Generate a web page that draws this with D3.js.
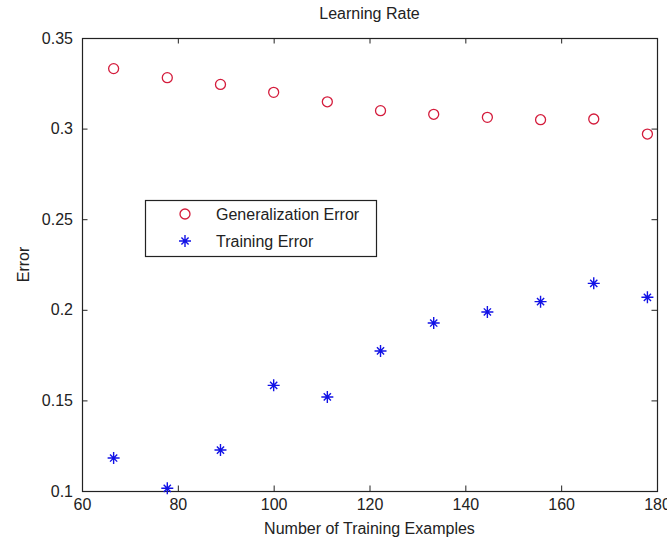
<!DOCTYPE html>
<html>
<head>
<meta charset="utf-8">
<script src="https://cdn.jsdelivr.net/npm/d3@7"></script>
<style>
  body { margin: 0; background: #fff; }
  svg text { font-family: "Liberation Sans", Arial, sans-serif; fill: #222; }
</style>
</head>
<body>
<svg id="svg" width="667" height="540"></svg>
<script>
// Training set sizes (x)
var trainingSizes = [66.6, 77.8, 88.9, 100, 111.2, 122.3, 133.4, 144.6, 155.7, 166.8, 178];

// Error values
var generalizationError = [0.3331, 0.3281, 0.3244, 0.3200, 0.3148, 0.3099, 0.3079, 0.3062, 0.3049, 0.3053, 0.2970];
var trainingError = [0.1182, 0.1015, 0.1226, 0.1583, 0.1519, 0.1773, 0.1927, 0.1988, 0.2045, 0.2146, 0.2069];

var xTicks = [60, 80, 100, 120, 140, 160, 180];
var yTicks = [0.1, 0.15, 0.2, 0.25, 0.3, 0.35];

var legendLabels = ["Generalization Error", "Training Error"];

var svg = d3.select('#svg'),
	// plot box (note: "top" is reserved on window, hence the prefix)
	axLeft = 82, axRight = 657, axTop = 38, axBottom = 491,
	tickLen = 5.5,
	axisColor = '#222',
	red = '#d41c3c',
	blue = '#1212e6';

var x = d3.scaleLinear().domain([60, 180]).range([axLeft, axRight]);
var y = d3.scaleLinear().domain([0.1, 0.35]).range([axBottom, axTop]);

// asterisk marker: a plus with shorter diagonals
var starPath = function(cx, cy){
	var a = 6, b = 3.6;
	return 'M' + (cx - a) + ',' + cy + 'H' + (cx + a) +
		'M' + cx + ',' + (cy - a) + 'V' + (cy + a) +
		'M' + (cx - b) + ',' + (cy - b) + 'L' + (cx + b) + ',' + (cy + b) +
		'M' + (cx - b) + ',' + (cy + b) + 'L' + (cx + b) + ',' + (cy - b);
};

var fmt = function(d){ return String(+d.toFixed(2)); };

var styleAxis = function(g){
	g.select('.domain').remove();
	g.selectAll('.tick line').attr('stroke', axisColor);
	g.selectAll('.tick text').style('font-size', '16px').attr('fill', '#222');
};

svg.append('g')
	.attr('transform', 'translate(0,' + axBottom + ')')
	.call(d3.axisBottom(x).tickValues(xTicks).tickSize(-tickLen).tickPadding(8))
	.call(styleAxis);

svg.append('g')
	.attr('transform', 'translate(0,' + axTop + ')')
	.call(d3.axisTop(x).tickValues(xTicks).tickSize(-tickLen).tickFormat(''))
	.call(styleAxis);

svg.append('g')
	.attr('transform', 'translate(' + axLeft + ',0)')
	.call(d3.axisLeft(y).tickValues(yTicks).tickSize(-tickLen).tickPadding(9).tickFormat(fmt))
	.call(styleAxis);

svg.append('g')
	.attr('transform', 'translate(' + axRight + ',0)')
	.call(d3.axisRight(y).tickValues(yTicks).tickSize(-tickLen).tickFormat(''))
	.call(styleAxis);

svg.selectAll('g').attr('font-family', null);

// axes box
svg.append('rect')
	.attr('x', axLeft + 0.5).attr('y', axTop + 0.5)
	.attr('width', axRight - axLeft).attr('height', axBottom - axTop)
	.attr('fill', 'none')
	.attr('stroke', axisColor)
	.attr('stroke-width', 1.2);

// generalization error: red circles
svg.append('g').selectAll('circle')
	.data(generalizationError)
	.enter()
	.append('circle')
	.attr('cx', function(d, i){ return x(trainingSizes[i]); })
	.attr('cy', function(d){ return y(d); })
	.attr('r', 5)
	.attr('fill', 'none')
	.attr('stroke', red)
	.attr('stroke-width', 1.3);

// training error: blue asterisks
svg.append('g').selectAll('path')
	.data(trainingError)
	.enter()
	.append('path')
	.attr('d', function(d, i){ return starPath(x(trainingSizes[i]), y(d)); })
	.attr('stroke', blue)
	.attr('stroke-width', 1.4);

// labels
svg.append('text')
	.attr('x', (axLeft + axRight) / 2).attr('y', 19)
	.attr('text-anchor', 'middle')
	.style('font-size', '16px')
	.text('Learning Rate');

svg.append('text')
	.attr('x', (axLeft + axRight) / 2).attr('y', 534)
	.attr('text-anchor', 'middle')
	.style('font-size', '16px')
	.text('Number of Training Examples');

svg.append('text')
	.attr('transform', 'translate(29,' + ((axTop + axBottom) / 2) + ') rotate(-90)')
	.attr('text-anchor', 'middle')
	.style('font-size', '16px')
	.text('Error');

// legend
var legend = svg.append('g');
legend.append('rect')
	.attr('x', 145.5).attr('y', 200.5)
	.attr('width', 231).attr('height', 56)
	.attr('fill', '#fff')
	.attr('stroke', axisColor)
	.attr('stroke-width', 1.2);

var rowY = [214, 241];
legend.append('circle')
	.attr('cx', 185).attr('cy', rowY[0]).attr('r', 5)
	.attr('fill', 'none').attr('stroke', red).attr('stroke-width', 1.3);
legend.append('path')
	.attr('d', starPath(185, rowY[1]))
	.attr('stroke', blue).attr('stroke-width', 1.4);

legend.selectAll('text')
	.data(legendLabels)
	.enter()
	.append('text')
	.attr('x', 216)
	.attr('y', function(d, i){ return rowY[i]; })
	.attr('dy', '0.35em')
	.style('font-size', '16px')
	.text(function(d){ return d; });
</script>
</body>
</html>
